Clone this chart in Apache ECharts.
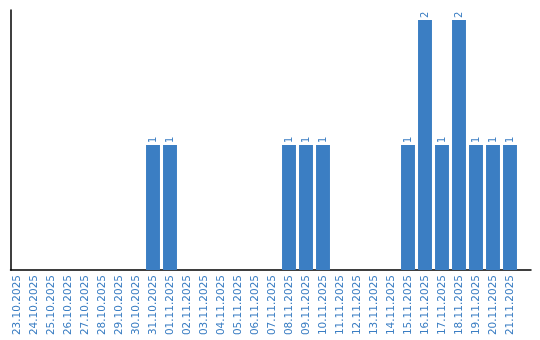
<!DOCTYPE html>
<html><head><meta charset="utf-8">
<script src="https://cdn.jsdelivr.net/npm/echarts@6/dist/echarts.min.js"></script>
<style>html,body{margin:0;padding:0;background:#fff}#c{width:540px;height:340px}</style>
</head><body><div id="c"></div>
<script>
const categories = ["23.10.2025","24.10.2025","25.10.2025","26.10.2025","27.10.2025","28.10.2025","29.10.2025","30.10.2025","31.10.2025","01.11.2025","02.11.2025","03.11.2025","04.11.2025","05.11.2025","06.11.2025","07.11.2025","08.11.2025","09.11.2025","10.11.2025","11.11.2025","12.11.2025","13.11.2025","14.11.2025","15.11.2025","16.11.2025","17.11.2025","18.11.2025","19.11.2025","20.11.2025","21.11.2025"];
const values = [0,0,0,0,0,0,0,0,1,1,0,0,0,0,0,0,1,1,1,0,0,0,0,1,2,1,2,1,1,1];
const blue = '#3b7ec3';
const chart = echarts.init(document.getElementById('c'), null, {renderer:'canvas'});
chart.setOption({
  animation:false,
  grid:[
    {left:8.5, width:510, top:10, bottom:70},
    {left:10.5, right:9, top:10, bottom:70}
  ],
  xAxis:[
    {type:'category', gridIndex:0, data:categories, axisLine:{show:false}, axisTick:{show:false},
     axisLabel:{rotate:90, color:blue, fontFamily:'DejaVu Sans', fontSize:10.5, interval:0, margin:5}},
    {type:'category', gridIndex:1, data:[], axisLine:{show:true, lineStyle:{color:'#000', width:1.5}}, axisTick:{show:false}, axisLabel:{show:false}}
  ],
  yAxis:[
    {type:'value', gridIndex:0, min:0, max:2.08, axisLine:{show:false}, axisTick:{show:false}, axisLabel:{show:false}, splitLine:{show:false}},
    {type:'value', gridIndex:1, min:0, max:1, axisLine:{show:true, lineStyle:{color:'#000', width:1.5}}, axisTick:{show:false}, axisLabel:{show:false}, splitLine:{show:false}}
  ],
  series:[{
    type:'bar', xAxisIndex:0, yAxisIndex:0, data:values, barCategoryGap:'18%',
    itemStyle:{color:blue},
    label:{show:true, position:'top', rotate:90, align:'left', verticalAlign:'middle', distance:2,
      color:blue, fontFamily:'DejaVu Sans', fontSize:10,
      formatter:p=>p.value>0?String(p.value):''}
  }]
});
</script></body></html>
